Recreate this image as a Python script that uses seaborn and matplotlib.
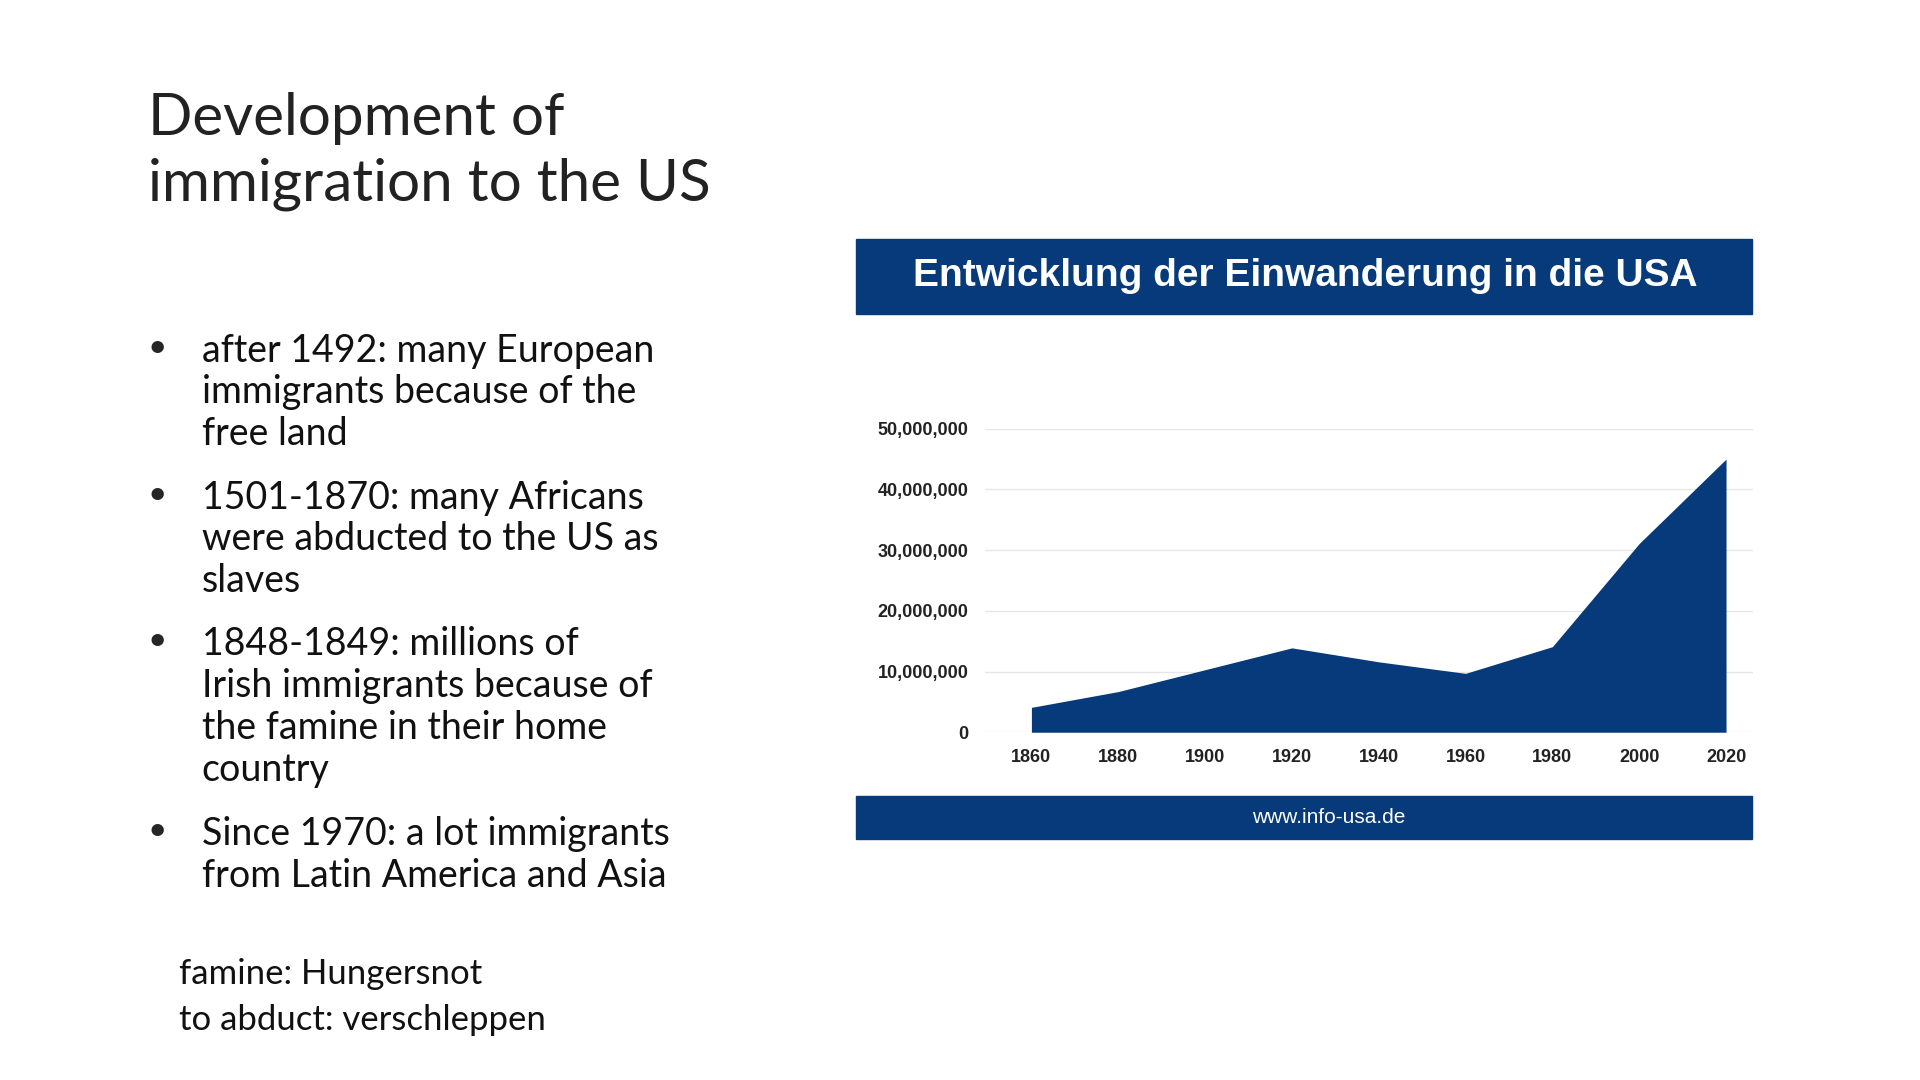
import numpy as np
import matplotlib.pyplot as plt
import matplotlib.ticker as mticker
from matplotlib.patches import Rectangle
import seaborn as sns

sns.set_style("white")

years = [1860, 1880, 1900, 1920, 1940, 1960, 1980, 2000, 2020]
immigrants = [4.1e6, 6.7e6, 10.3e6, 13.9e6, 11.6e6, 9.7e6, 14.1e6, 31.1e6, 45.0e6]
yticks = [0, 10e6, 20e6, 30e6, 40e6, 50e6]

slide_title = "Development of\nimmigration to the US"
bullets = [
    "after 1492: many European\nimmigrants because of the\nfree land",
    "1501-1870: many Africans\nwere abducted to the US as\nslaves",
    "1848-1849: millions of\nIrish immigrants because of\nthe famine in their home\ncountry",
    "Since 1970: a lot immigrants\nfrom Latin America and Asia",
]
glossary = "famine: Hungersnot\nto abduct: verschleppen"

navy = "#063a7a"
body_font = "Lato"
chart_font = ["Liberation Sans Narrow", "Liberation Sans", "DejaVu Sans"]

fig = plt.figure(figsize=(19.2, 10.8), dpi=100)
fig.patch.set_facecolor("white")

# slide text
fig.text(0.077, 0.915, slide_title, fontsize=42, fontfamily=body_font,
         fontweight="normal", va="top", color="#222222", linespacing=1.3)
bullet_y = [0.692, 0.556, 0.42, 0.244]
for y, b in zip(bullet_y, bullets):
    fig.text(0.077, y, "•", fontsize=24, fontfamily=body_font, va="top")
    fig.text(0.105, y, b, fontsize=27, fontfamily=body_font, va="top",
             linespacing=1.2, color="#111111")
fig.text(0.093, 0.113, glossary, fontsize=25, fontfamily=body_font, va="top",
         linespacing=1.55, color="#111111")

# chart header / footer bands
fig.add_artist(Rectangle((0.446, 0.709), 0.4665, 0.07, transform=fig.transFigure,
                         color=navy))
fig.text(0.68, 0.744, "Entwicklung der Einwanderung in die USA", color="white",
         fontsize=28, fontweight="bold", fontfamily=chart_font, ha="center", va="center")
fig.add_artist(Rectangle((0.446, 0.223), 0.4665, 0.04, transform=fig.transFigure,
                         color=navy))
fig.text(0.692, 0.243, "www.info-usa.de", color="white", fontsize=15,
         fontfamily=chart_font, ha="center", va="center")

# area chart
ax = fig.add_axes([0.513, 0.322, 0.4, 0.281])
ax.fill_between(years, immigrants, color=navy, lw=0)
ax.set_xlim(1849.3, 2026.2)
ax.set_ylim(0, 50e6)
ax.set_xticks(years)
ax.set_yticks(yticks)
ax.yaxis.set_major_formatter(mticker.FuncFormatter(lambda v, p: f"{int(v):,}"))
ax.grid(axis="y", color="#e6e6e6", lw=1)
ax.set_axisbelow(True)
sns.despine(ax=ax, left=True, bottom=True)
ax.tick_params(length=0, labelsize=13, pad=12)
for lab in ax.get_xticklabels() + ax.get_yticklabels():
    lab.set_fontweight("bold")
    lab.set_fontfamily(chart_font)
    lab.set_color("#222222")

fig.savefig("out.png", dpi=100)
